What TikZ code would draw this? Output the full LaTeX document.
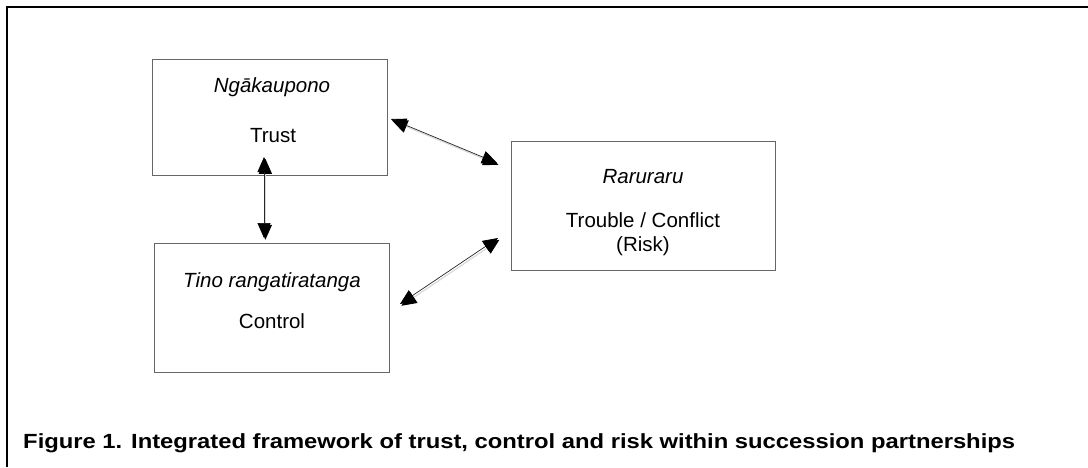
\documentclass[tikz,border=0pt]{standalone}
\usepackage{fontspec}
\setmainfont{Liberation Sans}
\usetikzlibrary{arrows.meta}

\tikzset{
	box/.style={draw=black!60, line width=0.9pt, minimum width=235pt},
	link/.style={<->, draw=black!85, line width=0.7pt,
		preaction={draw=black!15, line width=1.2pt, transform canvas={shift={(1.4pt,-1.8pt)}}}},
	label/.style={anchor=base}
}

\begin{document}
\begin{tikzpicture}[x=1pt, y=-1pt, >={Triangle[length=15pt, width=13pt, color=black]},
		every node/.style={font=\fontsize{20.5}{24}\selectfont, inner sep=0pt}]
				\useasboundingbox (0,0) rectangle (1088,467);
				
				% 1. outer frame (top and left rules only)
				\draw[line width=2pt] (7,467) -- (7,7) -- (1088,7);
				
				% 2. the three boxes
				\node[box, minimum height=116pt] (trust) at (269.5,117) {};
				\node[box, minimum width=264pt, minimum height=129pt] (risk) at (643,205.5) {};
				\node[box, minimum height=129pt] (control) at (271.5,307.5) {};
				
				% 3. texts in the boxes
				\node[label, font=\fontsize{20.5}{24}\selectfont\itshape] (trustmi) at (272,92) {Ngākaupono};
				\node[label] (trusten) at (273,142) {Trust};
				
				\node[label, font=\fontsize{20.5}{24}\selectfont\itshape] (riskmi) at (643,183) {Raruraru};
				\node[label] (risken) at (643,227) {Trouble / Conflict};
				\node[label] (riskpar) at (643,251) {(Risk)};
				
				\node[label, font=\fontsize{20.5}{24}\selectfont\itshape] (controlmi) at (272,287) {Tino rangatiratanga};
				\node[label] (controlen) at (272,328) {Control};
				
				% 4. arrow ends and double-headed arrows
				\coordinate (trustE) at (391,119);
				\coordinate (riskNW) at (497,163);
				\coordinate (trustS) at (264,157);
				\coordinate (controlN) at (264,238);
				\coordinate (controlE) at (400,304);
				\coordinate (riskSW) at (498,238);
				
				\draw[link] (trustE) -- (riskNW);
				\draw[link] (trustS) -- (controlN);
				\draw[link] (controlE) -- (riskSW);
				
				% 5. caption
				\node[anchor=base west, xscale=1.16, font=\fontsize{20.5}{24}\selectfont\bfseries] (caption) at (23,448)
				{Figure 1. Integrated framework of trust, control and risk within succession partnerships};
			\end{tikzpicture}
\end{document}
